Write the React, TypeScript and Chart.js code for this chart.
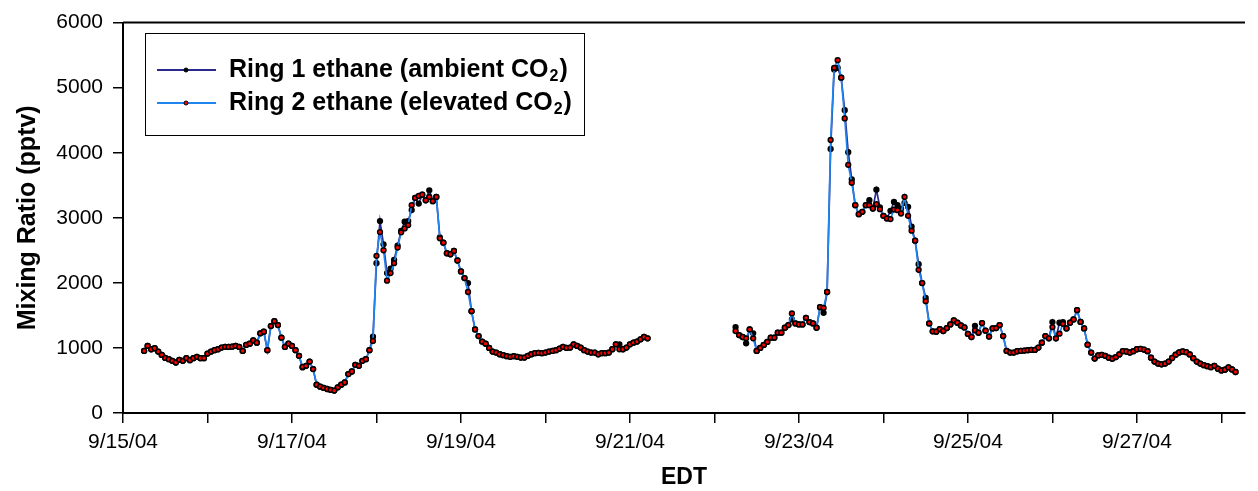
import React, { useEffect, useRef } from 'react';
import { Chart, registerables } from 'chart.js';

Chart.register(...registerables);

// Hours since 9/15/04 00:00 EDT (hourly samples)
const seg1StartHour = 6;
const seg2StartHour = 174;
const gapHour = 161;

const ring1Seg1 = [
  954, 1031, 980, 995, 944, 893, 847, 827, 802, 776,
  817, 802, 843, 812, 843, 863, 843, 843, 913, 944,
  965, 980, 1005, 1015, 1015, 1020, 1031, 1015, 954, 1046,
  1066, 1117, 1081, 1224, 1249, 965, 1336, 1412, 1351, 1157,
  1015, 1066, 1031, 965, 878, 700, 725, 791, 675, 435,
  405, 385, 369, 354, 344, 394, 435, 470, 598, 638,
  740, 725, 802, 827, 965, 1173, 2302, 2949, 2593, 2150,
  2217, 2354, 2573, 2797, 2939, 2949, 3118, 3305, 3218, 3356,
  3270, 3423, 3255, 3321, 2700, 2618, 2455, 2440, 2491, 2344,
  2176, 2074, 1997, 1565, 1285, 1183, 1097, 1066, 1000, 944,
  929, 903, 888, 873, 863, 873, 863, 852, 852, 878,
  903, 919, 924, 919, 929, 944, 954, 965, 990, 1015,
  1000, 1005, 1056, 1031, 1005, 965, 944, 929, 929, 903,
  919, 919, 929, 980, 1056, 1056, 980, 1005, 1056, 1081,
  1097, 1132, 1168, 1148,
];

const ring2Seg1 = [
  954, 1031, 980, 995, 944, 893, 847, 827, 802, 776,
  817, 802, 843, 812, 843, 863, 843, 843, 913, 944,
  965, 980, 1005, 1015, 1015, 1020, 1031, 1015, 954, 1046,
  1066, 1117, 1081, 1224, 1249, 965, 1336, 1412, 1351, 1157,
  1015, 1066, 1031, 965, 878, 710, 725, 791, 675, 435,
  405, 385, 369, 354, 344, 394, 435, 470, 598, 638,
  740, 725, 802, 827, 965, 1107, 2415, 2781, 2501, 2033,
  2150, 2302, 2542, 2776, 2837, 2888, 3194, 3305, 3336, 3356,
  3270, 3321, 3255, 3321, 2684, 2618, 2455, 2440, 2491, 2344,
  2176, 2074, 1860, 1565, 1285, 1183, 1097, 1066, 1000, 944,
  929, 903, 888, 873, 863, 873, 863, 852, 852, 878,
  903, 919, 924, 919, 929, 944, 954, 965, 990, 1015,
  1000, 1005, 1056, 1031, 1005, 965, 944, 929, 929, 903,
  919, 919, 929, 980, 1056, 980, 980, 1005, 1056, 1081,
  1097, 1132, 1168, 1148,
];

const ring1Seg2 = [
  1320, 1198, 1168, 1071, 1285, 1224, 954, 1000, 1046, 1092,
  1158, 1158, 1234, 1234, 1310, 1351, 1438, 1377, 1362, 1362,
  1463, 1397, 1377, 1310, 1626, 1539, 1860, 4058, 5280, 5305,
  5153, 4653, 4008, 3591, 3194, 3056, 3092, 3194, 3270, 3143,
  3432, 3160, 3031, 2990, 3107, 3244, 3194, 3140, 3229, 3168,
  2863, 2649, 2287, 1997, 1768, 1377, 1255, 1250, 1290, 1260,
  1305, 1362, 1425, 1387, 1345, 1315, 1215, 1168, 1340, 1234,
  1382, 1265, 1175, 1300, 1305, 1351, 1183, 954, 929, 929,
  949, 954, 960, 965, 970, 970, 1005, 1081, 1183, 1148,
  1397, 1148, 1387, 1397, 1300, 1387, 1438, 1580, 1400, 1300,
  1050, 929, 837, 885, 893, 878, 850, 835, 860, 900,
  950, 945, 930, 950, 980, 985, 975, 950, 850, 790,
  760, 748, 760, 790, 845, 895, 930, 945, 935, 900,
  843, 790, 760, 735, 720, 705, 725, 680, 655, 665,
  700, 670, 630,
];

const ring2Seg2 = [
  1260, 1198, 1168, 1148, 1285, 1148, 954, 1000, 1046, 1092,
  1158, 1158, 1234, 1234, 1310, 1351, 1530, 1377, 1362, 1362,
  1463, 1397, 1377, 1310, 1626, 1615, 1860, 4196, 5305, 5423,
  5153, 4527, 3814, 3539, 3194, 3056, 3092, 3194, 3194, 3143,
  3209, 3133, 3031, 2990, 2980, 3127, 3117, 3066, 3321, 3031,
  2802, 2649, 2201, 1997, 1718, 1377, 1255, 1250, 1290, 1260,
  1305, 1362, 1425, 1387, 1345, 1315, 1215, 1168, 1270, 1234,
  1382, 1265, 1175, 1300, 1305, 1351, 1183, 954, 929, 929,
  949, 954, 960, 965, 970, 970, 1005, 1081, 1183, 1148,
  1321, 1148, 1219, 1371, 1300, 1387, 1438, 1580, 1400, 1300,
  1050, 929, 837, 885, 893, 878, 850, 835, 860, 900,
  950, 945, 930, 950, 980, 985, 975, 950, 850, 790,
  760, 748, 760, 790, 845, 895, 930, 945, 935, 900,
  843, 790, 760, 735, 720, 705, 725, 680, 655, 665,
  700, 670, 630,
];

const xTickHours = [0, 24, 48, 72, 96, 120, 144, 168, 192, 216, 240, 264, 288, 312];
const xTickLabels = ['9/15/04', '', '9/17/04', '', '9/19/04', '', '9/21/04', '', '9/23/04', '', '9/25/04', '', '9/27/04', ''];
const yTickValues = [0, 1000, 2000, 3000, 4000, 5000, 6000];
const xMaxHour = 318.7;

const legendMain = ['Ring 1 ethane (ambient CO', 'Ring 2 ethane (elevated CO'];
const legendSub = '2';
const legendClose = ')';

const FONT = "'Liberation Sans', Arial, Helvetica, sans-serif";
const ring1Line = '#2a2a8c';
const ring2Line = '#1f86f0';

function toPoints(start: number, vals: number[]) {
  return vals.map((v, i) => ({ x: start + i, y: v as number | null }));
}
function series(a: number[], b: number[]) {
  return [...toPoints(seg1StartHour, a), { x: gapHour, y: null }, ...toPoints(seg2StartHour, b)];
}

const framePlugin = {
  id: 'frame',
  afterDraw(chart: any) {
    const { ctx, chartArea } = chart;
    ctx.save();
    ctx.strokeStyle = '#000';
    ctx.lineWidth = 2;
    ctx.beginPath();
    ctx.moveTo(chartArea.left, chartArea.top);
    ctx.lineTo(chartArea.right, chartArea.top);
    ctx.stroke();
    ctx.restore();
  },
};

const legendPlugin = {
  id: 'customLegend',
  afterDraw(chart: any) {
    const ctx = chart.ctx as CanvasRenderingContext2D;
    ctx.save();
    ctx.fillStyle = '#fff';
    ctx.fillRect(145, 33, 440, 103);
    ctx.strokeStyle = '#000';
    ctx.lineWidth = 1;
    ctx.strokeRect(145.5, 33.5, 439, 102);
    const rows = [
      { y: 70, line: ring1Line, fill: '#000' },
      { y: 103, line: ring2Line, fill: '#ff0000' },
    ];
    rows.forEach((r, i) => {
      ctx.strokeStyle = r.line;
      ctx.lineWidth = 2;
      ctx.beginPath();
      ctx.moveTo(157, r.y);
      ctx.lineTo(216, r.y);
      ctx.stroke();
      ctx.beginPath();
      ctx.arc(186, r.y, 2, 0, Math.PI * 2);
      ctx.fillStyle = r.fill;
      ctx.fill();
      ctx.lineWidth = 1;
      ctx.strokeStyle = '#000';
      ctx.stroke();
      ctx.fillStyle = '#000';
      ctx.textBaseline = 'middle';
      ctx.font = `bold 25px ${FONT}`;
      let x = 229;
      ctx.fillText(legendMain[i], x, r.y);
      x += ctx.measureText(legendMain[i]).width;
      ctx.font = `bold 16px ${FONT}`;
      ctx.fillText(legendSub, x + 1, r.y + 7);
      x += ctx.measureText(legendSub).width + 2;
      ctx.font = `bold 25px ${FONT}`;
      ctx.fillText(legendClose, x, r.y);
    });
    ctx.restore();
  },
};

export default function App() {
  const ref = useRef<HTMLCanvasElement>(null);
  useEffect(() => {
    if (!ref.current) return;
    const tickFont = { family: FONT, size: 21 };
    const chart = new Chart(ref.current, {
      type: 'line',
      data: {
        datasets: [
          {
            label: 'Ring 2 ethane (elevated CO2)',
            data: series(ring2Seg1, ring2Seg2),
            order: 0,
            borderColor: ring2Line,
            borderWidth: 1.7,
            pointRadius: 2.4,
            pointBackgroundColor: '#ff0000',
            pointBorderColor: '#000',
            pointBorderWidth: 1.5,
            spanGaps: false,
            tension: 0,
          },
          {
            label: 'Ring 1 ethane (ambient CO2)',
            data: series(ring1Seg1, ring1Seg2),
            order: 1,
            borderColor: ring1Line,
            borderWidth: 1.7,
            pointRadius: 2.4,
            pointBackgroundColor: '#000',
            pointBorderColor: '#000',
            pointBorderWidth: 1.5,
            spanGaps: false,
            tension: 0,
          },
        ] as any,
      },
      options: {
        responsive: false,
        animation: false,
        events: [],
        layout: { padding: { left: 0, right: 13, top: 19, bottom: 0 } },
        plugins: { legend: { display: false }, tooltip: { enabled: false } },
        scales: {
          x: {
            type: 'linear',
            min: 0,
            max: xMaxHour,
            afterBuildTicks: (s: any) => {
              s.ticks = xTickHours.map((v) => ({ value: v }));
            },
            afterFit: (s: any) => {
              s.height = 78;
            },
            ticks: {
              callback: (_v: any, i: number) => xTickLabels[i],
              autoSkip: false,
              maxRotation: 0,
              font: tickFont,
              color: '#000',
              padding: 7,
            },
            grid: { drawOnChartArea: false, drawTicks: true, tickLength: 10, color: '#000', lineWidth: 1.5 },
            border: { display: true, color: '#000', width: 2 },
            title: {
              display: true,
              text: 'EDT',
              color: '#000',
              font: { family: FONT, size: 23, weight: 'bold' },
              padding: { top: 0, bottom: 0 },
            },
          },
          y: {
            type: 'linear',
            min: 0,
            max: 6000,
            afterBuildTicks: (s: any) => {
              s.ticks = yTickValues.map((v) => ({ value: v }));
            },
            afterFit: (s: any) => {
              s.width = 123;
            },
            ticks: {
              callback: (v: any) => String(v),
              font: tickFont,
              color: '#000',
              padding: 10,
            },
            grid: { drawOnChartArea: false, drawTicks: true, tickLength: 10, color: '#000', lineWidth: 1.5 },
            border: { display: true, color: '#000', width: 2 },
            title: {
              display: true,
              text: 'Mixing Ratio (pptv)',
              color: '#000',
              font: { family: FONT, size: 25, weight: 'bold' },
              padding: { top: 13, bottom: 0 },
            },
          },
        },
      } as any,
      plugins: [framePlugin, legendPlugin],
    });
    return () => chart.destroy();
  }, []);
  return (
    <div style={{ position: 'absolute', left: 0, top: 0, width: 1258, height: 491, background: '#fff' }}>
      <canvas ref={ref} width={1258} height={491} style={{ display: 'block' }} />
    </div>
  );
}
